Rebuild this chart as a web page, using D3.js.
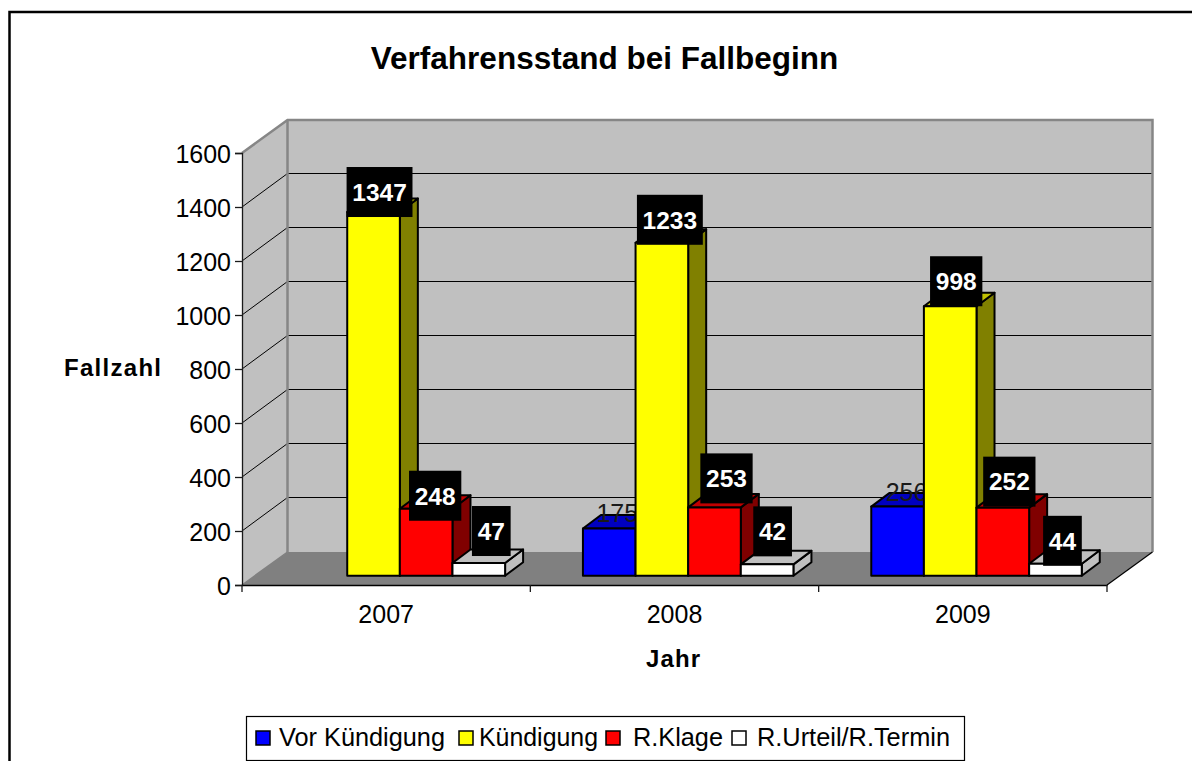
<!DOCTYPE html>
<html><head><meta charset="utf-8">
<script src="https://cdnjs.cloudflare.com/ajax/libs/d3/7.8.5/d3.min.js"></script>
<style>html,body{margin:0;padding:0;background:#fff}svg{display:block}text{font-family:"Liberation Sans",Arial,sans-serif}</style>
</head><body><svg id="c" width="1192" height="761"></svg>
<script>
const years = ["2007","2008","2009"];
const seriesNames = ["Vor Kündigung","Kündigung","R.Klage","R.Urteil/R.Termin"];
const vorKuendigung = [null,175,256];
const kuendigung = [1347,1233,998];
const rKlage = [248,253,252];
const rUrteil = [47,42,44];
const seriesValues = [vorKuendigung,kuendigung,rKlage,rUrteil];
const frontColors = ["#0000ff","#ffff00","#ff0000","#ffffff"];
const topColors = ["#0000c0","#c0c000","#c00000","#c0c0c0"];
const sideColors = ["#000080","#808000","#800000","#c0c0c0"];
const yTicks = [0,200,400,600,800,1000,1200,1400,1600];
// label nudges relative to the bar's top-centre [series][year]
const nudgeX = [[0,8,9],[6,8,6],[9,12,6.5],[12.5,5.5,7]];
const nudgeY = [[0,-15,-15],[-20,-23,-25],[-13,-29,-26],[-32,-33,-23]];

const svg = d3.select("#c");
const L=242,R=1107,B=585,T=153, WDX=45.5, WDY=-33;
const y = d3.scaleLinear().domain([0,1600]).range([B,T]);
const x = d3.scaleBand().domain(years).range([L,R]);
const barDY=-9.3, depthX=18, depthY=-13.5;
const sx = yr => d3.scaleBand().domain(seriesNames).range([x(yr)+52.6,x(yr)+52.6+210.5]);
const poly = (g,pts,fill,stroke,sw)=>g.append("polygon").attr("points",pts.map(p=>p.join(",")).join(" ")).attr("fill",fill).attr("stroke",stroke||"none").attr("stroke-width",sw||0).attr("stroke-linejoin","round");
const fit=(sel,w,mode)=>sel.attr("textLength",w).attr("lengthAdjust",mode||"spacingAndGlyphs");

// frame
svg.append("path").attr("d","M9.5,761V12H1192").attr("fill","none").attr("stroke","#000").attr("stroke-width",2.5);

// walls
const walls=svg.append("g");
poly(walls,[[L,B],[L+WDX,B+WDY],[L+WDX,T+WDY],[L,T]],"#c0c0c0");
poly(walls,[[L+WDX,B+WDY],[R+WDX,B+WDY],[R+WDX,T+WDY],[L+WDX,T+WDY]],"#c0c0c0");
poly(walls,[[L,B],[L+WDX,B+WDY],[R+WDX,B+WDY],[R,B]],"#808080");
const grid=svg.append("g");
yTicks.filter(v=>v>0&&v<1600).forEach(v=>{
  grid.append("path").attr("d",`M${L},${y(v)}L${L+WDX},${y(v)+WDY-0.5}H${R+WDX}`).attr("fill","none").attr("stroke","#000").attr("stroke-width",1);
});
svg.append("path").attr("d",`M${L},${T}L${L+WDX},${T+WDY}H${R+WDX}V${B+WDY}`).attr("fill","none").attr("stroke","#868686").attr("stroke-width",2.5);
svg.append("path").attr("d",`M${L+WDX},${T+WDY}V${B+WDY}`).attr("fill","none").attr("stroke","#868686").attr("stroke-width",2.5);
svg.append("path").attr("d",`M${L},${B}L${L+WDX},${B+WDY}`).attr("stroke","#808080").attr("stroke-width",1.5);
svg.append("path").attr("d",`M${R},${B}L${R+WDX},${B+WDY}`).attr("stroke","#000").attr("stroke-width",1.2);

// axes
const yAxis=svg.append("g").attr("transform",`translate(${L},0)`).call(d3.axisLeft(y).tickValues(yTicks).tickFormat(d3.format("d")).tickSize(7).tickPadding(4));
yAxis.selectAll("path,line").attr("stroke","#1a1a1a").attr("stroke-width",1.3);
yAxis.selectAll("text").attr("font-size",25).attr("fill","#000").attr("font-family",null).attr("dy","0.36em");
const xAxis=svg.append("g").attr("transform",`translate(0,${B})`).call(d3.axisBottom(x).tickSizeOuter(0).tickSize(0).tickFormat(d=>d).tickPadding(20));
xAxis.selectAll("path").attr("stroke","#000").attr("stroke-width",1.5);
xAxis.selectAll(".tick line").remove();
xAxis.selectAll("text").attr("font-size",25).attr("fill","#000").attr("dy","0.71em");
xAxis.selectAll("g.edge").data([...years.map(d=>x(d)),R]).enter().append("line").attr("x1",d=>d).attr("x2",d=>d).attr("y1",0).attr("y2",7).attr("stroke","#1a1a1a").attr("stroke-width",1.3);

// bars
const labelLayer=[];
years.forEach((yr,i)=>{
  const g=svg.append("g");
  const s=sx(yr);
  seriesNames.forEach((name,j)=>{
    const v=seriesValues[j][i];
    if(v==null) return;
    const x0=s(name), x1=x0+s.bandwidth(), yb=y(0)+barDY, yt=y(v)+barDY;
    const st="#000", sw=2;
    poly(g,[[x1,yb],[x1+depthX,yb+depthY],[x1+depthX,yt+depthY],[x1,yt]],sideColors[j],st,sw);
    poly(g,[[x0,yt],[x0+depthX,yt+depthY],[x1+depthX,yt+depthY],[x1,yt]],topColors[j],st,sw);
    poly(g,[[x0,yt],[x1,yt],[x1,yb],[x0,yb]],frontColors[j],st,sw);
    const cx=(x0+x1)/2+nudgeX[j][i], cy=yt+nudgeY[j][i];
    if(j===0){
      g.append("text").attr("x",cx).attr("y",cy).attr("dy","0.36em").attr("text-anchor","middle").attr("font-size",25).attr("fill","#1a1a1a").text(v);
    } else {
      labelLayer.push({v,cx,cy});
    }
  });
});
const lab=svg.append("g");
labelLayer.forEach(d=>{
  const n=String(d.v).length, w=n*13.6+11.5;
  lab.append("rect").attr("x",d.cx-w/2).attr("y",d.cy-25).attr("width",w).attr("height",50).attr("fill","#000");
  lab.append("text").attr("x",d.cx).attr("y",d.cy).attr("dy","0.36em").attr("text-anchor","middle").attr("font-size",24.5).attr("font-weight","bold").attr("fill","#fff").text(d.v);
});

// titles
svg.append("text").attr("x",604.5).attr("y",69).attr("text-anchor","middle").attr("font-size",31.5).attr("font-weight","bold").text("Verfahrensstand bei Fallbeginn");
svg.append("text").attr("x",112.5).attr("y",376).attr("text-anchor","middle").attr("font-size",24).attr("font-weight","bold").text("Fallzahl").call(fit,97,"spacing");
svg.append("text").attr("x",673).attr("y",667).attr("text-anchor","middle").attr("font-size",24).attr("font-weight","bold").text("Jahr").call(fit,54,"spacing");

// legend
const lg=svg.append("g");
lg.append("rect").attr("x",246.5).attr("y",716.5).attr("width",718).attr("height",44).attr("fill","#fff").attr("stroke","#000").attr("stroke-width",1.2);
const swatchX=[256,459,606,732], textX=[279,479,633,757], textW=[166,119,90,193];
seriesNames.forEach((n,j)=>{
  lg.append("rect").attr("x",swatchX[j]).attr("y",731).attr("width",14).attr("height",14).attr("fill",frontColors[j]).attr("stroke","#000").attr("stroke-width",1.5);
  lg.append("text").attr("x",textX[j]).attr("y",746).attr("font-size",25).text(n).call(fit,textW[j]);
});
</script></body></html>
